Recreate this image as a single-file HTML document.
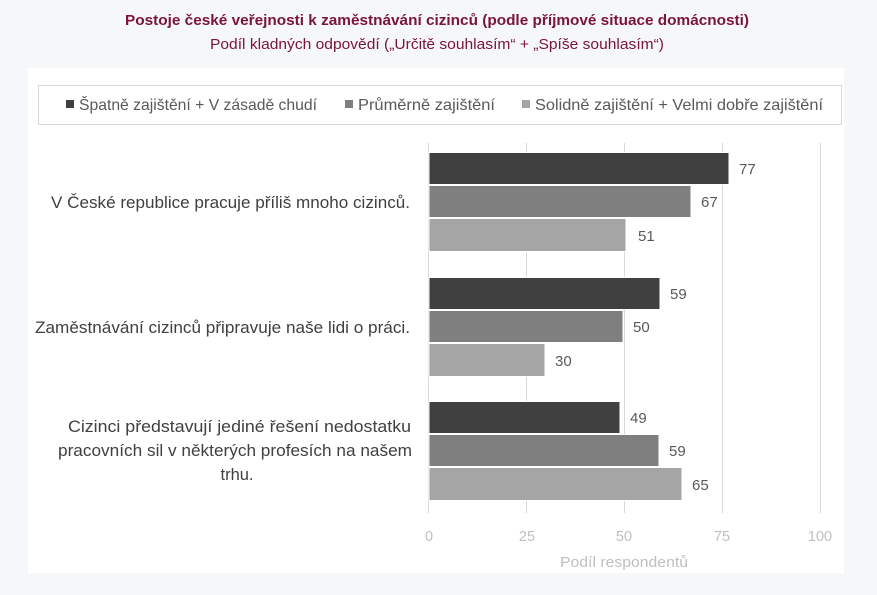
<!DOCTYPE html>
<html><head><meta charset="utf-8"><style>
html,body{margin:0;padding:0;background:#f6f7f9;}
body{width:877px;height:590px;overflow:hidden;font-family:"Liberation Sans","DejaVu Sans",sans-serif;}
</style></head><body>
<svg width="877" height="590" xmlns="http://www.w3.org/2000/svg" font-family="Liberation Sans, DejaVu Sans, sans-serif">
<rect x="0" y="0" width="877" height="590" fill="#f6f7f9"/>
<text x="437" y="25" text-anchor="middle" font-size="15" font-weight="bold" fill="#7a1438" textLength="624" lengthAdjust="spacingAndGlyphs">Postoje české veřejnosti k zaměstnávání cizinců (podle příjmové situace domácnosti)</text>
<text x="437" y="49" text-anchor="middle" font-size="15" fill="#7a1438" textLength="454" lengthAdjust="spacingAndGlyphs">Podíl kladných odpovědí („Určitě souhlasím“ + „Spíše souhlasím“)</text>
<rect x="28" y="68" width="816" height="505" fill="#fff"/>
<rect x="38.5" y="85.5" width="803" height="39" fill="#fff" stroke="#d9d9d9"/>
<g font-size="16" fill="#595959">
<rect x="66" y="100" width="8" height="8" fill="#404040"/><text x="79" y="110" textLength="238" lengthAdjust="spacingAndGlyphs">Špatně zajištění + V zásadě chudí</text>
<rect x="345" y="100" width="8" height="8" fill="#7f7f7f"/><text x="358" y="110" textLength="137" lengthAdjust="spacingAndGlyphs">Průměrně zajištění</text>
<rect x="522" y="100" width="8" height="8" fill="#a5a5a5"/><text x="535" y="110" textLength="288" lengthAdjust="spacingAndGlyphs">Solidně zajištění + Velmi dobře zajištění</text>
</g>
<g stroke="#d9d9d9" stroke-width="1">
<line x1="428.5" y1="143" x2="428.5" y2="513"/>
<line x1="526.5" y1="143" x2="526.5" y2="513"/>
<line x1="624.5" y1="143" x2="624.5" y2="513"/>
<line x1="722.5" y1="143" x2="722.5" y2="513"/>
<line x1="820.5" y1="143" x2="820.5" y2="513"/>
</g>
<g stroke="#fff" stroke-width="1">
<rect x="429" y="152.5" width="300" height="32" fill="#404040"/>
<rect x="429" y="185.5" width="262" height="32" fill="#7f7f7f"/>
<rect x="429" y="218.5" width="197" height="33" fill="#a5a5a5"/>
<rect x="429" y="277.5" width="231" height="32" fill="#404040"/>
<rect x="429" y="310.5" width="194" height="32" fill="#7f7f7f"/>
<rect x="429" y="343.5" width="116" height="33" fill="#a5a5a5"/>
<rect x="429" y="401.5" width="191" height="32" fill="#404040"/>
<rect x="429" y="434.5" width="230" height="32" fill="#7f7f7f"/>
<rect x="429" y="467.5" width="253" height="33" fill="#a5a5a5"/>
</g>
<g font-size="15" fill="#595959">
<text x="739" y="174">77</text><text x="701" y="207">67</text><text x="638" y="241">51</text>
<text x="670" y="299">59</text><text x="633" y="332">50</text><text x="555" y="366">30</text>
<text x="630" y="423">49</text><text x="669" y="456">59</text><text x="692" y="490">65</text>
</g>
<g font-size="16.5" fill="#404040">
<text x="51" y="208" textLength="359" lengthAdjust="spacingAndGlyphs">V České republice pracuje příliš mnoho cizinců.</text>
<text x="35" y="333" textLength="375" lengthAdjust="spacingAndGlyphs">Zaměstnávání cizinců připravuje naše lidi o práci.</text>
<text x="68" y="432" textLength="343" lengthAdjust="spacingAndGlyphs">Cizinci představují jediné řešení nedostatku</text>
<text x="58" y="456" textLength="354" lengthAdjust="spacingAndGlyphs">pracovních sil v některých profesích na našem</text>
</g>
<text x="237" y="480" font-size="16.5" fill="#404040" text-anchor="middle">trhu.</text>
<g font-size="14.5" fill="#bfbfbf" text-anchor="middle">
<text x="429" y="541">0</text><text x="527" y="541">25</text><text x="624" y="541">50</text><text x="722" y="541">75</text><text x="820" y="541">100</text>
<text x="624" y="567" textLength="128" lengthAdjust="spacingAndGlyphs">Podíl respondentů</text>
</g>
</svg>
</body></html>
